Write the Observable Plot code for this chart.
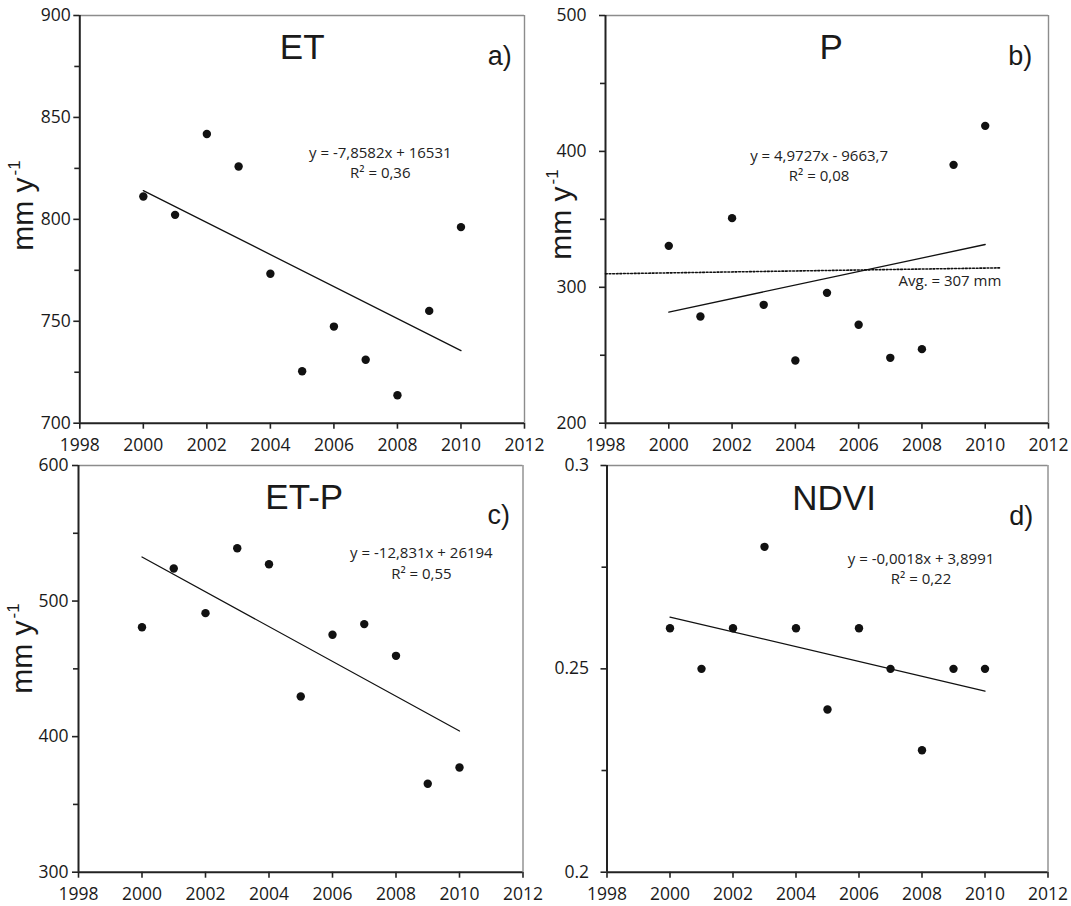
<!DOCTYPE html>
<html>
<head>
<meta charset="utf-8">
<script src="https://cdn.jsdelivr.net/npm/d3@7"></script>
<script src="https://cdn.jsdelivr.net/npm/@observablehq/plot@0.6"></script>
<style>
  html, body { margin: 0; padding: 0; background: #fff; }
  #root { position: relative; width: 1071px; height: 906px; background: #fff; overflow: hidden; }
  #root > div { position: absolute; }
  svg { overflow: visible; }
</style>
</head>
<body>
<div id="root">
  <div id="pa" style="left:0px;top:0px"></div>
  <div id="pb" style="left:536px;top:0px"></div>
  <div id="pc" style="left:0px;top:453px"></div>
  <div id="pd" style="left:536px;top:453px"></div>
</div>
<script>
// ---- data ----
const years = [2000, 2001, 2002, 2003, 2004, 2005, 2006, 2007, 2008, 2009, 2010];
const etValues   = [811.2, 802.2, 841.9, 825.9, 773.3, 725.5, 747.4, 731.1, 713.7, 755.1, 796.2];
const pValues    = [330.5, 278.5, 350.9, 287.1, 246.1, 295.9, 272.4, 248.1, 254.5, 390.1, 418.8];
const etpValues  = [480.7, 524.0, 491.1, 539.0, 527.2, 429.6, 475.1, 483.0, 459.6, 365.2, 377.2];
const ndviValues = [0.26, 0.25, 0.26, 0.28, 0.26, 0.24, 0.26, 0.25, 0.23, 0.25, 0.25];

// average line drawn in panel b (as drawn in the figure)
const avgLineX = [1998, 2010.45];
const avgLineY = [309.9, 314.3];

// tick labels
const xTicks = [1998, 2000, 2002, 2004, 2006, 2008, 2010, 2012];
const etTicks = [700, 750, 800, 850, 900];
const etMinor = [725, 775, 825, 875];
const pTicks = [200, 300, 400, 500];
const pMinor = [250, 350, 450];
const etpTicks = [300, 400, 500, 600];
const etpMinor = [350, 450, 550];
const ndviTicks = [0.2, 0.25, 0.3];
const ndviTickLabels = ["0.2", "0.25", "0.3"];
const ndviMinor = [0.225, 0.275];

// texts
const titles = ["ET", "P", "ET-P", "NDVI"];
const letters = ["a)", "b)", "c)", "d)"];
const equations = [
  ["y = -7,8582x + 16531", "R² = 0,36"],
  ["y = 4,9727x - 9663,7", "R² = 0,08"],
  ["y = -12,831x + 26194", "R² = 0,55"],
  ["y = -0,0018x + 3,8991", "R² = 0,22"]
];
const avgLabel = "Avg. = 307 mm";
const yLabelMain = "mm y";
const yLabelSup = "-1";

// ---- drawing ----
const TICK_FONT = "'Open Sans', sans-serif";
const ARIAL = "'Liberation Sans', Arial, sans-serif";

function panel(cfg) {
  const rows = years.map((yr, i) => ({year: yr, v: cfg.values[i]}));
  const [y0, y1] = cfg.yDomain;
  const marks = [
    Plot.axisX({ticks: xTicks, tickFormat: d => String(d), tickSize: 6, tickPadding: 9,
                fontSize: 17.5, fontFamily: TICK_FONT, fill: "#1a1a1a", label: null, strokeWidth: 1.6}),
    Plot.axisY({ticks: cfg.yTicks, tickFormat: cfg.yFormat, tickSize: 6, tickPadding: cfg.tickPad,
                fontSize: 17.5, fontFamily: TICK_FONT, fill: "#1a1a1a", label: null, strokeWidth: 1.6}),
    Plot.axisY({ticks: cfg.yMinor, text: null, tickSize: 5, label: null, strokeWidth: 1.6}),
    Plot.ruleY([y1], {stroke: "#8c8c8c", strokeWidth: 1.4}),
    Plot.ruleX([2012], {stroke: "#8c8c8c", strokeWidth: 1.4}),
    Plot.ruleX([1998], {stroke: "#222", strokeWidth: 2}),
    Plot.ruleY([y0], {stroke: "#222", strokeWidth: 2}),
  ];
  if (cfg.extra) marks.push(...cfg.extra);
  marks.push(
    Plot.linearRegressionY(rows, {x: "year", y: "v", ci: 0, stroke: "#111", strokeWidth: 1.3}),
    Plot.dot(rows, {x: "year", y: "v", r: 4.2, fill: "#111", stroke: "none"}),
    Plot.text([cfg.title], {x: () => cfg.titlePos[0], y: () => cfg.titlePos[1], text: d => d,
               fontSize: 35, fontFamily: ARIAL, fill: "#1a1a1a"}),
    Plot.text([cfg.letter], {x: () => cfg.letterPos[0], y: () => cfg.letterPos[1], text: d => d,
               fontSize: 27, fontFamily: ARIAL, fill: "#1a1a1a"}),
    Plot.text([cfg.eq[0]], {x: () => cfg.eqPos[0], y: () => cfg.eqPos[1], text: d => d,
               fontSize: 15, fontFamily: TICK_FONT, fill: "#222"}),
    Plot.text([cfg.eq[1]], {x: () => cfg.eqPos[0], y: () => cfg.eqPos[2], text: d => d,
               fontSize: 15, fontFamily: TICK_FONT, fill: "#222"})
  );
  const svg = Plot.plot({
    width: cfg.width, height: 453,
    marginLeft: cfg.m[0], marginRight: cfg.m[1], marginTop: cfg.m[2], marginBottom: cfg.m[3],
    style: {overflow: "visible", background: "transparent", color: "#222", fontFamily: TICK_FONT},
    x: {domain: [1998, 2012]},
    y: {domain: cfg.yDomain},
    marks
  });
  if (cfg.ylabel) {
    const [lx, ly] = cfg.ylabel;
    const t = d3.select(svg).append("text")
      .attr("transform", `translate(${lx},${ly}) rotate(-90)`)
      .attr("text-anchor", "middle")
      .attr("font-family", ARIAL)
      .attr("font-size", 30)
      .attr("fill", "#1a1a1a");
    t.append("tspan").text(yLabelMain);
    t.append("tspan").attr("font-size", 17).attr("dy", -13).attr("dx", 2).text(yLabelSup);
  }
  document.getElementById(cfg.el).appendChild(svg);
}

panel({
  el: "pa", width: 536, m: [79.3, 12, 15, 30.3],
  values: etValues, yDomain: [700, 900], yTicks: etTicks, yMinor: etMinor,
  yFormat: d => String(d), tickPad: 3,
  title: titles[0], titlePos: [2005.0, 884.1],
  letter: letters[0], letterPos: [2011.22, 879.9],
  eq: equations[0], eqPos: [2007.46, 832.6, 822.6],
  ylabel: [33, 205.5]
});

panel({
  el: "pb", width: 535, m: [69, 23, 15, 30.3],
  values: pValues, yDomain: [200, 500], yTicks: pTicks, yMinor: pMinor,
  yFormat: d => String(d), tickPad: 13,
  title: titles[1], titlePos: [2005.13, 476.2],
  letter: letters[1], letterPos: [2011.11, 469.8],
  eq: equations[1], eqPos: [2004.75, 396.5, 381.5],
  ylabel: [35, 214.5],
  extra: [
    Plot.line(avgLineX.map((x, i) => ({x, y: avgLineY[i]})),
      {x: "x", y: "y", stroke: "#111", strokeWidth: 1.6, strokeDasharray: "1.8,1.8"}),
    Plot.text([avgLabel], {x: () => 2010.51, y: () => 304.3, text: d => d, textAnchor: "end",
      fontSize: 15, fontFamily: TICK_FONT, fill: "#222"})
  ]
});

panel({
  el: "pc", width: 536, m: [78, 13.5, 12, 34.3],
  values: etpValues, yDomain: [300, 600], yTicks: etpTicks, yMinor: etpMinor,
  yFormat: d => String(d), tickPad: 4,
  title: titles[2], titlePos: [2005.11, 575.9],
  letter: letters[2], letterPos: [2011.24, 563.1],
  eq: equations[2], eqPos: [2008.8, 535.6, 520.1],
  ylabel: [32, 195.5]
});

panel({
  el: "pd", width: 535, m: [70.5, 23.5, 12, 34.3],
  values: ndviValues, yDomain: [0.2, 0.3], yTicks: ndviTicks, yMinor: ndviMinor,
  yFormat: d => ndviTickLabels[ndviTicks.indexOf(d)] ?? String(d), tickPad: 12,
  title: titles[3], titlePos: [2005.21, 0.2918],
  letter: letters[3], letterPos: [2011.15, 0.2875],
  eq: equations[3], eqPos: [2007.97, 0.2770, 0.2720],
  ylabel: null
});
</script>
</body>
</html>
